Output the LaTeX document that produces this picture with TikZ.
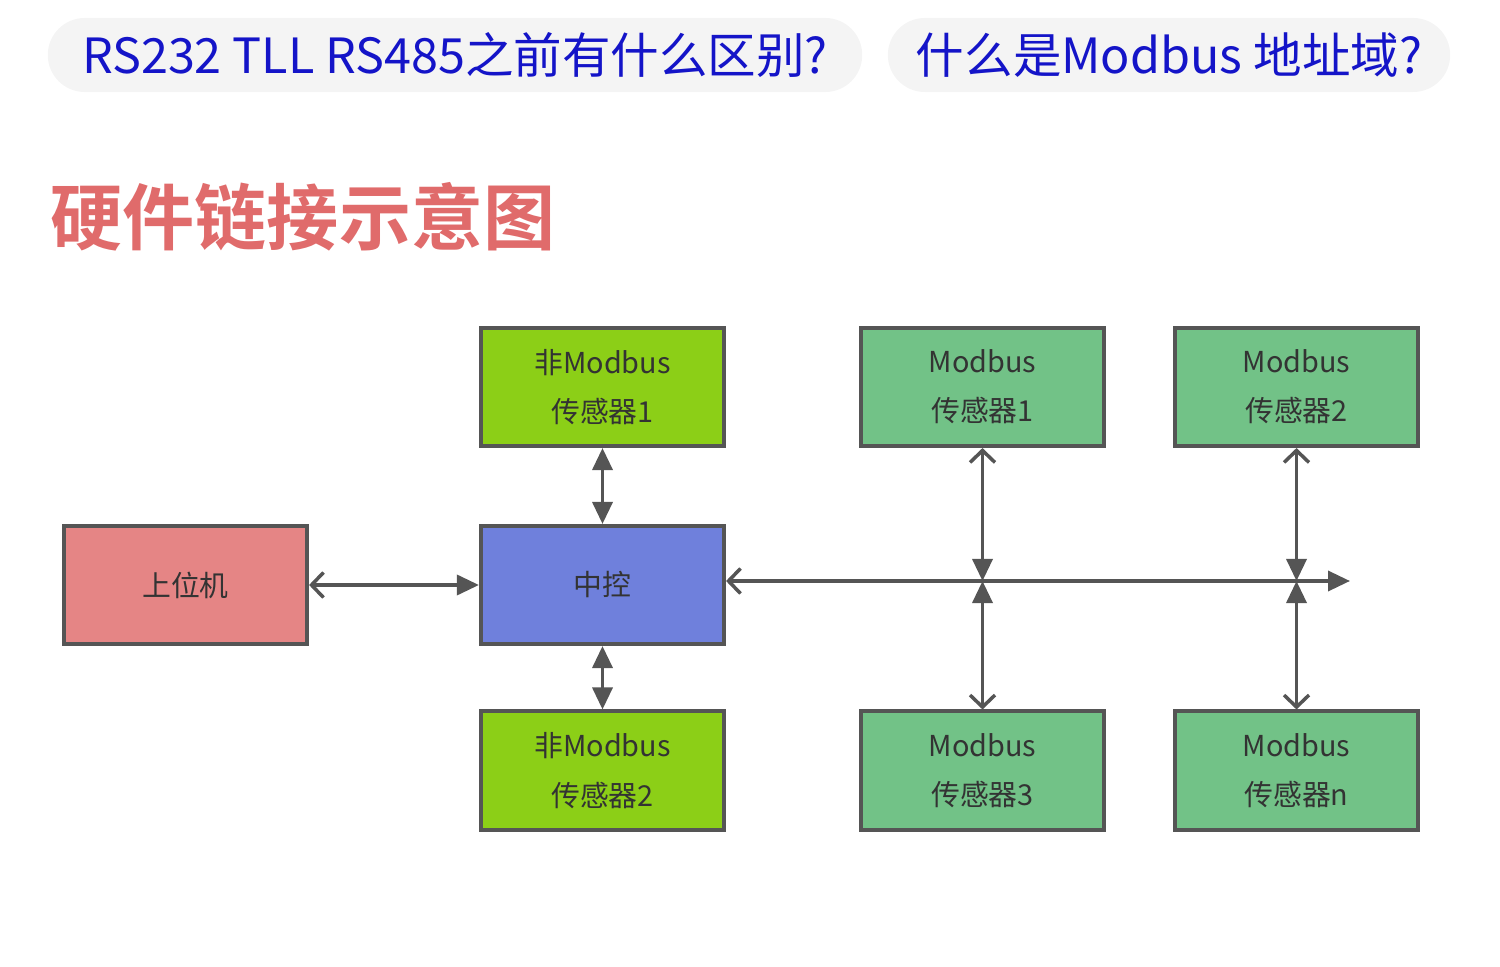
\documentclass[tikz,border=0pt]{standalone}
\usepackage{fontspec}
\setmainfont{Noto Sans CJK SC}
\newfontfamily\cjkbold[BoldFont={* Bold}]{Noto Sans CJK SC}
\usetikzlibrary{arrows.meta}

\definecolor{pillgray}{HTML}{F4F4F4}
\definecolor{pillblue}{HTML}{1414C8}
\definecolor{titlered}{HTML}{E06B6B}
\definecolor{edgegray}{HTML}{555555}
\definecolor{hostred}{HTML}{E58585}
\definecolor{ctrlblue}{HTML}{6F80DC}
\definecolor{limegreen}{HTML}{8CCF17}
\definecolor{busgreen}{HTML}{72C287}

\tikzset{
    tipf/.tip = {Triangle[length=0.22cm, width=0.2cm]},
    tipo/.tip = {Straight Barb[length=0.12cm, width=0.25cm]},
    box/.style = {draw = edgegray, line width = 0.04cm, minimum width = 2.43cm, minimum height = 1.18cm,
                  align = center, text = black!80, font = \fontsize{8.2}{14}\selectfont, inner sep = 0pt},
    pill/.style = {fill = pillgray, rounded corners = 0.37cm, minimum height = 0.74cm, inner sep = 0pt,
                   text = pillblue, font = \fontsize{13.8}{16}\selectfont},
    link/.style = {draw = edgegray, line width = 0.035cm}
}

\begin{document}
\begin{tikzpicture}[x = 0.01cm, y = -0.01cm]
    \useasboundingbox (0,0) rectangle (1500,967);
    % header
    \node[pill, minimum width = 8.14cm] (q1) at (455,55) {RS232 TLL RS485之前有什么区别?};
    \node[pill, minimum width = 5.62cm] (q2) at (1169,55) {什么是Modbus 地址域?};
    \node[anchor = west, text = titlered, inner sep = 0pt, font = \cjkbold\bfseries\fontsize{20.5}{24}\selectfont] (title) at (50,217) {硬件链接示意图};
    % boxes
    \node[box, fill = limegreen] (nm1) at (602.5,387) {非Modbus\\传感器1};
    \node[box, fill = busgreen] (m1) at (982.5,387) {Modbus\\传感器1};
    \node[box, fill = busgreen] (m2) at (1296.5,387) {Modbus\\传感器2};
    \node[box, fill = hostred] (host) at (185.5,585) {上位机};
    \node[box, fill = ctrlblue] (ctrl) at (602.5,585) {中控};
    \node[box, fill = limegreen] (nm2) at (602.5,770.5) {非Modbus\\传感器2};
    \node[box, fill = busgreen] (m3) at (982.5,770.5) {Modbus\\传感器3};
    \node[box, fill = busgreen] (mn) at (1296.5,770.5) {Modbus\\传感器n};
    % bus
    \coordinate (bus) at (1350,581);
    \coordinate (j1) at (982.5,581);
    \coordinate (j2) at (1296.5,581);
    \draw[link, tipo-tipf] (host) -- (ctrl);
    \draw[link, tipo-tipf] (ctrl.east |- bus) -- (bus);
    \draw[link, tipf-tipf] (nm1) -- (ctrl);
    \draw[link, tipf-tipf] (ctrl) -- (nm2);
    \draw[link, tipo-tipf] (m1) -- (j1);
    \draw[link, tipf-tipo] (j1) -- (m3);
    \draw[link, tipo-tipf] (m2) -- (j2);
    \draw[link, tipf-tipo] (j2) -- (mn);
\end{tikzpicture}
\end{document}
